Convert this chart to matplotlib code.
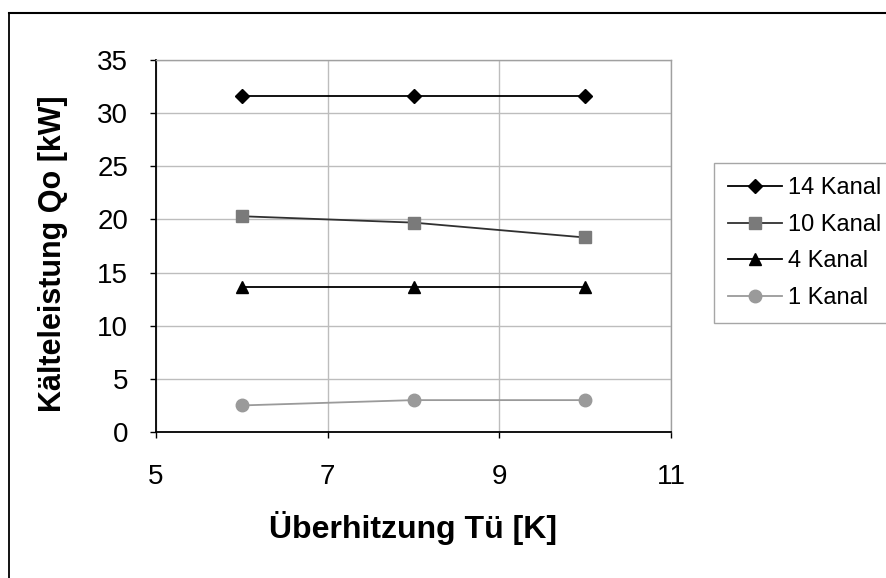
import matplotlib.pyplot as plt
from matplotlib.lines import Line2D

plt.rcParams['font.family'] = ['Liberation Sans', 'DejaVu Sans']

x_vals = [6, 8, 10]
series_names = ['14 Kanal', '10 Kanal', '4 Kanal', '1 Kanal']
kanal_14 = [31.6, 31.6, 31.6]
kanal_10 = [20.3, 19.7, 18.3]
kanal_4 = [13.6, 13.6, 13.6]
kanal_1 = [2.5, 3.0, 3.0]

x_ticks = [5, 7, 9, 11]
y_ticks = [0, 5, 10, 15, 20, 25, 30, 35]

fig = plt.figure(figsize=(8.87, 5.78), dpi=100)
ax = fig.add_axes([156 / 887, 1 - 432 / 578, 515 / 887, 372 / 578])

ax.plot(x_vals, kanal_14, color='black', lw=1.3, marker='D', ms=7,
        mfc='black', mec='black', label=series_names[0])
ax.plot(x_vals, kanal_10, color='#303030', lw=1.3, marker='s', ms=9,
        mfc='#7a7a7a', mec='#7a7a7a', label=series_names[1])
ax.plot(x_vals, kanal_4, color='black', lw=1.3, marker='^', ms=9,
        mfc='black', mec='black', label=series_names[2])
ax.plot(x_vals, kanal_1, color='#9a9a9a', lw=1.3, marker='o', ms=9,
        mfc='#9a9a9a', mec='#9a9a9a', label=series_names[3])

ax.set_xlim(5, 11)
ax.set_ylim(0, 35)
ax.set_xticks(x_ticks)
ax.set_yticks(y_ticks)
ax.grid(True, color='#bdbdbd', lw=1)
ax.set_axisbelow(True)

for side in ['top', 'right']:
    ax.spines[side].set_color('#a0a0a0')
    ax.spines[side].set_linewidth(1)
for side in ['left', 'bottom']:
    ax.spines[side].set_color('black')
    ax.spines[side].set_linewidth(1.3)

ax.tick_params(axis='both', direction='out', length=4, width=1,
               labelsize=20, colors='black')
ax.tick_params(axis='y', pad=16)
ax.tick_params(axis='x', pad=19)

ax.set_xlabel('Überhitzung Tü [K]', fontsize=23, fontweight='bold')
ax.set_ylabel('Kälteleistung Qo [kW]', fontsize=22, fontweight='bold')
ax.xaxis.set_label_coords(0.5, -0.212)
ax.yaxis.set_label_coords(-0.171, 0.478)

leg = fig.legend(loc='upper left', bbox_to_anchor=(714 / 887, 1 - 163 / 578),
                 borderaxespad=0, frameon=True, fancybox=False, fontsize=17,
                 handlelength=2.3, handletextpad=0.25, labelspacing=0.62,
                 borderpad=0.6)
leg.get_frame().set_edgecolor('#909090')
leg.get_frame().set_linewidth(1)

# outer chart frame (left and top edges)
fig.add_artist(Line2D([9 / 887, 9 / 887], [0, 1 - 13 / 578], color='black', lw=1.3))
fig.add_artist(Line2D([9 / 887, 1], [1 - 13 / 578, 1 - 13 / 578], color='black', lw=1.5))

fig.savefig('out.png', dpi=100)
